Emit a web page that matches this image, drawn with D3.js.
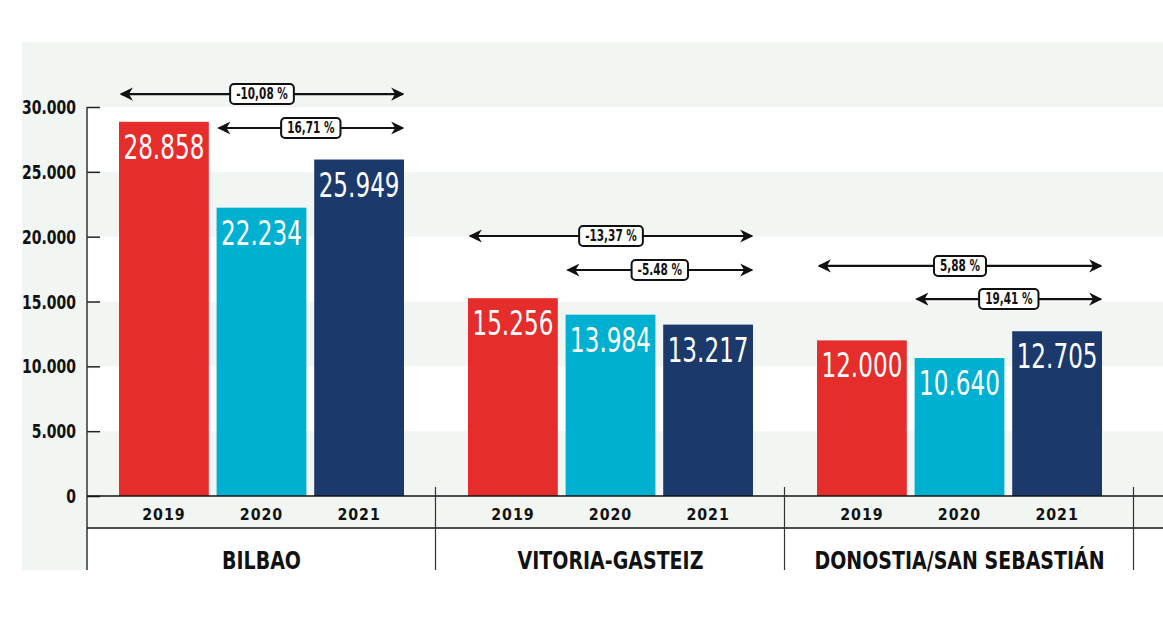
<!DOCTYPE html>
<html><head><meta charset="utf-8">
<script src="https://cdn.jsdelivr.net/npm/d3@7"></script>
<style>body{margin:0;background:#fff}text{font-family:"DejaVu Sans",sans-serif}</style>
</head><body><svg id="c" width="1163" height="622"></svg>
<script>
const cities = ["BILBAO","VITORIA-GASTEIZ","DONOSTIA/SAN SEBASTIÁN"];
const years = ["2019","2020","2021"];
const values = [[28858,22234,25949],[15256,13984,13217],[12000,10640,12705]];
const valueLabels = [["28.858","22.234","25.949"],["15.256","13.984","13.217"],["12.000","10.640","12.705"]];
const yTicks = [0,5000,10000,15000,20000,25000,30000];
const yTickLabels = ["0","5.000","10.000","15.000","20.000","25.000","30.000"];
const compareFrom = [0,1,0,1,0,1];
const compareCity = [0,0,1,1,2,2];
const compareLevel = [31000,28380,20050,17430,17740,15190];
const compareLabel = ["-10,08 %","16,71 %","-13,37 %","-5.48 %","5,88 %","19,41 %"];
const colors = ["#e52d2b","#00b0d0","#1b396b"];

const svg = d3.select("#c");
const left=87, bottom=496;
const y = d3.scaleLinear().domain([0,30000]).range([bottom,107]);
const x0 = d3.scaleBand().domain(cities).range([87,87+349*3]);
const x1 = d3.scaleBand().domain(years).range([32,317]).paddingInner(0.08);

function ctext(parent,x,yy,str,size,fill,anchor,sx){
  return parent.append("text").attr("transform",`translate(${x},${yy}) scale(${sx||0.72},1)`)
    .attr("text-anchor",anchor||"middle").attr("font-size",size).attr("font-weight","bold").attr("fill",fill).text(str);
}

svg.append("rect").attr("x",22).attr("y",42).attr("width",1141).attr("height",528).attr("fill","#f2f6f3");
for(let i=0;i<yTicks.length-1;i++){
  if(i%2===1) svg.append("rect").attr("x",left).attr("width",1163-left).attr("y",y(yTicks[i+1])).attr("height",y(yTicks[i])-y(yTicks[i+1])).attr("fill","#fff");
}
svg.append("rect").attr("x",left).attr("width",1163-left).attr("y",528).attr("height",42).attr("fill","#fff");
const ax = svg.append("g").attr("transform",`translate(${left},0)`).call(d3.axisRight(y).tickValues(yTicks).tickSize(13).tickFormat(""));
ax.select(".domain").remove();
ax.selectAll("line").attr("stroke","#222").attr("stroke-width",1.5);
yTicks.forEach((t,i)=>ctext(svg,76,y(t)+7,yTickLabels[i],20,"#111","end",0.7));
svg.append("line").attr("x1",left).attr("x2",left).attr("y1",107).attr("y2",570).attr("stroke","#333").attr("stroke-width",1.5);
cities.forEach((c,ci)=>{
  const g=svg.append("g").attr("transform",`translate(${x0(c)},0)`);
  years.forEach((yr,yi)=>{
    g.append("rect").attr("x",x1(yr)).attr("width",x1.bandwidth()).attr("y",y(values[ci][yi])).attr("height",bottom-y(values[ci][yi])).attr("fill",colors[yi]);
    ctext(g,x1(yr)+x1.bandwidth()/2,y(values[ci][yi])+37,valueLabels[ci][yi],34,"#fff","middle",0.68).attr("font-weight","normal");
    ctext(g,x1(yr)+x1.bandwidth()/2,520,years[yi],15,"#111","middle",0.95).attr("letter-spacing",1);
  });
  ctext(g,x0.bandwidth()/2,569,c,25,"#111","middle",0.76);
});
svg.append("line").attr("x1",left).attr("x2",1163).attr("y1",bottom).attr("y2",bottom).attr("stroke","#111").attr("stroke-width",1.5);
svg.append("line").attr("x1",left).attr("x2",1163).attr("y1",528).attr("y2",528).attr("stroke","#111").attr("stroke-width",1.5);
[1,2,3].forEach(i=>svg.append("line").attr("x1",87+349*i-0.5).attr("x2",87+349*i-0.5).attr("y1",487).attr("y2",570).attr("stroke","#333").attr("stroke-width",1.2));
const defs=svg.append("defs");
defs.append("marker").attr("id","ah").attr("viewBox","0 0 10 10").attr("refX",9).attr("refY",5).attr("markerWidth",6).attr("markerHeight",6).attr("markerUnits","strokeWidth").attr("orient","auto-start-reverse")
 .append("path").attr("d","M0,0 L10,5 L0,10 L3,5 Z").attr("fill","#111");
compareLabel.forEach((lab,i)=>{
  const c=cities[compareCity[i]];
  const xa=x0(c)+x1(years[compareFrom[i]])+2, xb=x0(c)+x1("2021")+x1.bandwidth()-1;
  const yy=y(compareLevel[i]);
  const g=svg.append("g");
  g.append("line").attr("x1",xa).attr("x2",xb).attr("y1",yy).attr("y2",yy).attr("stroke","#111").attr("stroke-width",2.2).attr("marker-start","url(#ah)").attr("marker-end","url(#ah)");
  const cx=(xa+xb)/2;
  const r=g.append("rect");
  const t=ctext(g,cx,yy+5,lab,15,"#111","middle",0.7);
  const w=t.node().getComputedTextLength()*0.7;
  r.attr("x",cx-w/2-6).attr("y",yy-10).attr("width",w+12).attr("height",20).attr("rx",4).attr("fill","#fff").attr("stroke","#111").attr("stroke-width",2);
});
</script></body></html>
